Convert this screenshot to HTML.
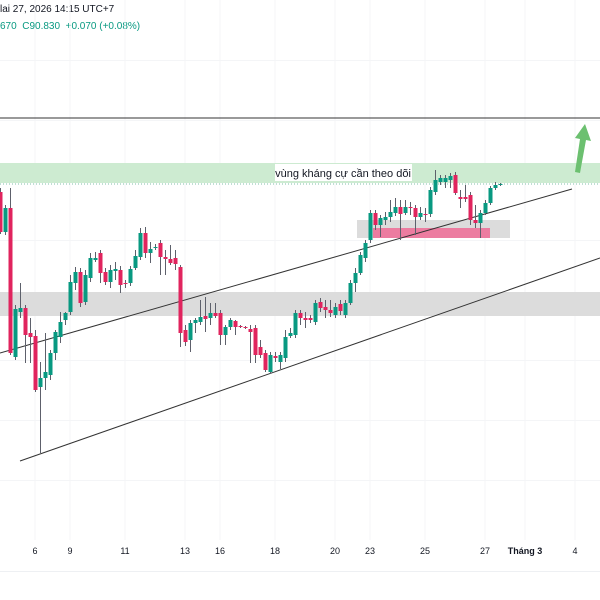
<!DOCTYPE html>
<html><head><meta charset="utf-8"><style>
html,body{margin:0;padding:0;background:#fff;width:600px;height:600px;overflow:hidden;font-family:"Liberation Sans","DejaVu Sans",sans-serif}
#wrap{position:relative;width:600px;height:600px}
.hdr{position:absolute;left:0;font-size:10px;white-space:nowrap}
</style></head><body>
<div id="wrap">
<div class="hdr" style="top:4px;color:#131722">lai 27, 2026 14:15 UTC+7</div>
<div class="hdr" style="top:21px;color:#089981">670&nbsp; C90.830&nbsp; +0.070 (+0.08%)</div>
<svg id="chart" width="600" height="600" style="position:absolute;left:0;top:0"></svg>
</div>
<script>
const opens=[90.76,90.36,90.60,89.11,89.56,89.60,89.35,89.32,88.81,88.90,88.93,89.15,89.31,89.48,89.56,89.85,89.96,89.66,89.90,90.08,90.15,89.96,89.86,89.97,89.98,89.85,89.85,90.00,90.11,90.35,90.15,90.20,90.25,90.11,90.09,90.10,90.01,89.38,89.28,89.45,89.46,89.52,89.50,89.55,89.55,89.33,89.41,89.47,89.42,89.41,89.39,89.40,89.21,89.15,88.96,89.12,89.06,89.10,89.32,89.33,89.55,89.50,89.50,89.46,89.66,89.61,89.58,89.53,89.64,89.53,89.65,89.85,89.95,90.10,90.28,90.55,90.43,90.48,90.51,90.55,90.61,90.55,90.61,90.60,90.51,90.54,90.54,90.76,90.86,90.86,90.88,90.93,90.71,90.71,90.73,90.48,90.45,90.55,90.65,90.80,90.83];
const highs=[90.80,90.63,90.80,89.63,89.85,89.63,89.50,89.38,89.06,89.35,89.18,89.38,89.56,89.56,89.93,90.01,90.00,89.98,90.15,90.16,90.18,90.00,90.03,90.06,90.02,89.88,90.02,90.18,90.40,90.41,90.26,90.24,90.28,90.18,90.23,90.18,90.03,89.43,89.48,89.50,89.68,89.71,89.65,89.65,89.58,89.43,89.50,89.48,89.43,89.42,89.43,89.43,89.28,89.18,89.16,89.16,89.16,89.38,89.40,89.58,89.58,89.56,89.53,89.68,89.70,89.68,89.68,89.65,89.68,89.68,89.88,90.00,90.16,90.28,90.58,90.58,90.53,90.56,90.68,90.70,90.68,90.68,90.66,90.63,90.61,90.60,90.81,90.98,90.93,90.93,90.95,90.96,90.78,90.83,90.76,90.63,90.58,90.68,90.82,90.86,90.85];
const lows=[90.34,90.33,89.13,89.08,89.50,89.05,89.05,88.76,88.15,88.78,88.88,89.08,89.25,89.43,89.53,89.78,89.61,89.63,89.86,90.06,89.85,89.83,89.80,89.88,89.75,89.80,89.82,89.98,90.08,90.10,90.05,90.18,89.93,89.93,90.03,89.98,89.21,89.22,89.16,89.35,89.43,89.36,89.43,89.50,89.23,89.23,89.38,89.33,89.40,89.39,89.05,89.05,89.10,88.96,88.94,89.06,88.99,89.06,89.30,89.30,89.43,89.40,89.45,89.43,89.56,89.50,89.51,89.50,89.53,89.50,89.63,89.76,89.93,90.06,90.25,90.38,90.31,90.43,90.46,90.52,90.28,90.53,90.53,90.33,90.48,90.46,90.51,90.73,90.83,90.80,90.80,90.73,90.60,90.66,90.43,90.40,90.30,90.53,90.63,90.78,90.82];
const closes=[90.36,90.60,89.15,89.59,89.60,89.33,89.31,88.78,88.90,88.96,89.15,89.36,89.46,89.55,89.86,89.96,89.65,89.93,90.10,90.10,89.95,89.86,89.98,89.99,89.83,89.84,89.99,90.12,90.35,90.15,90.19,90.21,90.11,90.09,90.05,90.04,89.35,89.26,89.45,89.48,89.51,89.49,89.55,89.52,89.33,89.41,89.48,89.41,89.41,89.40,89.36,89.13,89.13,88.98,89.13,89.10,89.13,89.31,89.35,89.55,89.50,89.48,89.48,89.65,89.60,89.58,89.55,89.61,89.57,89.65,89.85,89.95,90.13,90.25,90.55,90.43,90.50,90.51,90.56,90.61,90.54,90.61,90.60,90.51,90.55,90.53,90.78,90.88,90.90,90.90,90.92,90.75,90.69,90.69,90.48,90.45,90.55,90.65,90.80,90.83,90.84];
const tickLabels=["6","9","11","13","16","18","20","23","25","27","Tháng 3","4"];
const tickIndex=[7,14,25,37,44,55,67,74,85,97,105,115];
const resistanceTop=91.05, resistanceBottom=90.85;
const supportTop=89.76, supportBottom=89.52;
const lastPrice=90.84;
const topLine=91.50;

const NS="http://www.w3.org/2000/svg";
const svg=document.getElementById('chart');
function xScale(i){return i*5;}
function yScale(p){return (92.68-p)*100;}
function mk(tag,attrs,parent){const e=document.createElementNS(NS,tag);for(const k in attrs)e.setAttribute(k,attrs[k]);(parent||svg).appendChild(e);return e;}

const grid=mk('g',{});


tickIndex.forEach(function(ti){
  const l=mk('line',{x1:xScale(ti),x2:xScale(ti),y1:0,y2:540,stroke:'#f4f5f7','stroke-width':1},grid);
  
  
});
[60,120,180,240,300,360,420,480].forEach(function(y){
  const l=mk('line',{x1:0,x2:600,y1:y+0.5,y2:y+0.5,stroke:'#f4f5f7','stroke-width':1},grid);
  
  
});

const rz=mk('rect',{x:0,y:yScale(resistanceTop),width:600,height:yScale(resistanceBottom)-yScale(resistanceTop),fill:'#cdebd1'});


const sz=mk('rect',{x:0,y:yScale(supportTop),width:600,height:yScale(supportBottom)-yScale(supportTop),fill:'#dcdcdc'});


const gz=mk('rect',{x:357,y:220,width:153,height:18,fill:'#dcdcdc'});


const pz=mk('rect',{x:373,y:228,width:117,height:10,fill:'#ec7ca0'});



const hl=mk('line',{x1:0,x2:600,y1:yScale(topLine),y2:yScale(topLine),stroke:'#333','stroke-width':1});



const t1=mk('line',{x1:0,y1:353,x2:572,y2:189,stroke:'#333','stroke-width':1});


const t2=mk('line',{x1:20,y1:461,x2:600,y2:258,stroke:'#333','stroke-width':1});



const lp=mk('line',{x1:0,x2:600,y1:yScale(lastPrice),y2:yScale(lastPrice),stroke:'#7fbfa8','stroke-width':1,'stroke-dasharray':'1 2'});



const lblBg=mk('rect',{x:275,y:164,width:137,height:17,fill:'#ffffff'});


const lbl=mk('text',{x:343,y:177,'text-anchor':'middle','font-size':'11','fill':'#131722','font-family':'Liberation Sans, DejaVu Sans, sans-serif'});
lbl.textContent='vùng kháng cự cần theo dõi';



const cg=mk('g',{});


for(let i=0;i<opens.length;i++){
  const x=xScale(i);
  const up=closes[i]>=opens[i];
  const col=up?'#089981':'#e0245e';
  const w=mk('line',{x1:x+0.5,x2:x+0.5,y1:yScale(highs[i]),y2:yScale(lows[i]),stroke:'#5d606b','stroke-width':1},cg);
  
  
  const top=yScale(Math.max(opens[i],closes[i])), bot=yScale(Math.min(opens[i],closes[i]));
  const b=mk('rect',{x:x-1.5,y:top,width:4,height:Math.max(1,bot-top),fill:col},cg);
  
  
}

const ar=mk('path',{d:'M575 172 L580 139 L575 138 L585 124 L591 141 L586 140 L580 173 Z',fill:'#6cc070'});



const ax=mk('g',{});


const sep=mk('line',{x1:0,x2:600,y1:571.5,y2:571.5,stroke:'#eef0f3','stroke-width':1},ax);


tickLabels.forEach(function(t,k){
  const tx=mk('text',{x:xScale(tickIndex[k]),y:554,'text-anchor':'middle','font-size':'9','fill':'#131722','font-weight':t.length>2?'bold':'normal','font-family':'Liberation Sans, DejaVu Sans, sans-serif'},ax);
  tx.textContent=t;
  
  
});
</script>
</body></html>
